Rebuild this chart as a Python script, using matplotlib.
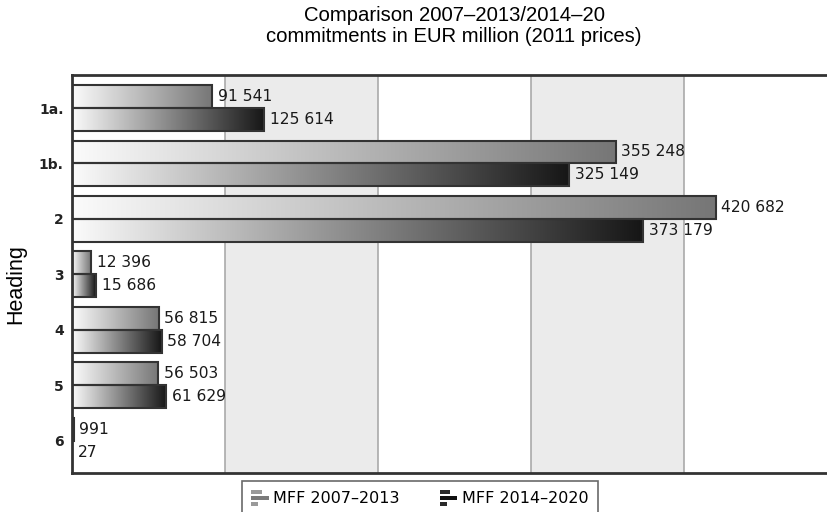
import numpy as np
import matplotlib
matplotlib.use("Agg")
import matplotlib.pyplot as plt
from matplotlib.colors import LinearSegmentedColormap
from matplotlib.legend_handler import HandlerBase
from matplotlib.patches import Rectangle, Patch

plt.rcParams["font.family"] = ["DejaVu Sans"]

categories = ["1a.", "1b.", "2", "3", "4", "5", "6"]
mff_2007_2013 = [91541, 355248, 420682, 12396, 56815, 56503, 991]
mff_2014_2020 = [125614, 325149, 373179, 15686, 58704, 61629, 27]
series_names = ["MFF 2007\u20132013", "MFF 2014\u20132020"]
title = "Comparison 2007\u20132013/2014\u201320\ncommitments in EUR million (2011 prices)"
ylabel = "Heading"

fig = plt.figure(figsize=(8.27, 5.12), dpi=100)
ax = fig.add_axes([72/827, 39/512, 1 - 72/827, (473-75)/512])

y = np.arange(len(categories))
h = 0.414
cmaps = [
    LinearSegmentedColormap.from_list("g1", ["#fbfbfb", "#767676"]),
    LinearSegmentedColormap.from_list("g2", ["#fbfbfb", "#161616"]),
]
grad = np.linspace(0, 1, 256).reshape(1, -1)

xmax = (827 - 72) / 153 * 100000

# background bands
for k in range(0, 5):
    if k % 2 == 1:
        ax.axvspan(k*100000, (k+1)*100000, color="#ebebeb", zorder=0, lw=0)
for k in range(1, 5):
    ax.axvline(k*100000, color="#aaaaaa", lw=1.2, zorder=0.5)

for si, (vals, off) in enumerate([(mff_2007_2013, -h/2), (mff_2014_2020, h/2)]):
    bars = ax.barh(y + off, vals, height=h, facecolor="none",
                   edgecolor="#333333", linewidth=1.5, zorder=3)
    for b, v in zip(bars, vals):
        x0, y0 = b.get_x(), b.get_y()
        w, hh = b.get_width(), b.get_height()
        im = ax.imshow(grad, cmap=cmaps[si], aspect="auto",
                       extent=(x0, x0 + max(w, 1), y0, y0 + hh),
                       zorder=2, interpolation="bilinear")
        im.set_clip_path(b)
        lab = f"{v:,}".replace(",", " ")
        ax.annotate(lab, (x0 + w, y0 + hh/2), xytext=(4, 0),
                    textcoords="offset points", va="center", ha="left",
                    fontsize=11.2, color="#1a1a1a", family="DejaVu Sans",
                    zorder=5)

ax.set_xlim(0, xmax)
ax.set_ylim(6.58, -0.595)
ax.set_yticks(y)
ax.set_yticklabels(categories, fontsize=10, fontweight="bold", color="#222222")
ax.set_xticks([])
ax.tick_params(axis="y", length=0, pad=6)
for s in ["left", "top", "bottom"]:
    ax.spines[s].set_linewidth(2)
    ax.spines[s].set_color("#333333")
ax.spines["right"].set_visible(False)

fig.text(454/827, 1 - 26/512, title, ha="center", va="center",
         fontsize=14.6, family="Liberation Sans", linespacing=1.1)
fig.text(16/827, 1 - 284/512, ylabel, ha="center", va="center",
         rotation=90, fontsize=15.5, family="Liberation Sans")


class BarsHandler(HandlerBase):
    def __init__(self, c1, c2, **kw):
        super().__init__(**kw)
        self.c1 = c1
        self.c2 = c2

    def create_artists(self, legend, orig_handle, xdescent, ydescent,
                       width, height, fontsize, trans):
        arts = []
        fr = [0.6, 1.0, 0.4]
        cols = [self.c1, self.c2, self.c1]
        bh = height / 3.9
        for i, f in enumerate(fr):
            yy = -ydescent + height - (i + 1) * bh - i * bh * 0.45
            r = Rectangle((-xdescent, yy), width * f, bh,
                          facecolor=cols[i], edgecolor="none",
                          transform=trans)
            arts.append(r)
        return arts


h1 = Patch(facecolor="#888888")
h2 = Patch(facecolor="#222222")
leg = fig.legend([h1, h2], series_names, loc="upper center",
                 bbox_to_anchor=(420/827, 1 - 481/512),
                 ncol=2, frameon=True, fancybox=False,
                 handler_map={h1: BarsHandler("#9a9a9a", "#7a7a7a"),
                              h2: BarsHandler("#2a2a2a", "#111111")},
                 prop={"family": "DejaVu Sans", "size": 11.5},
                 handlelength=1.1, handleheight=1.2, handletextpad=0.3,
                 columnspacing=2.5, borderpad=0.55, borderaxespad=0)
leg.get_frame().set_edgecolor("#444444")
leg.get_frame().set_linewidth(1.2)

fig.savefig("out.png", dpi=100)
